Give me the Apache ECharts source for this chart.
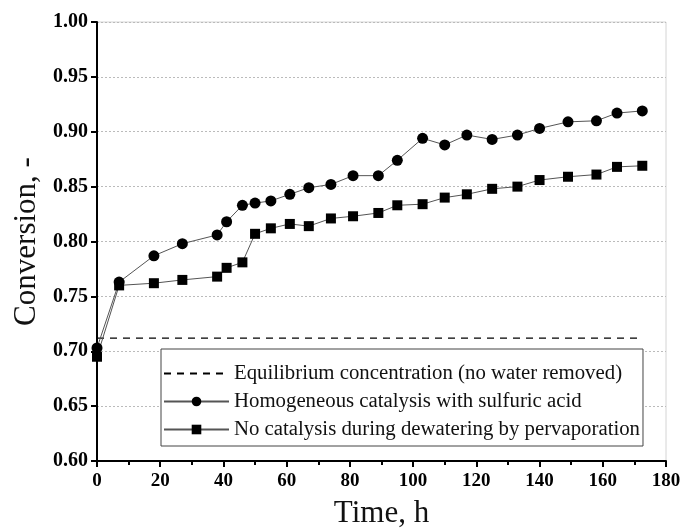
<!DOCTYPE html>
<html><head><meta charset="utf-8">
<script src="https://cdn.jsdelivr.net/npm/echarts@6/dist/echarts.min.js"></script>
<style>html,body{margin:0;padding:0;background:#fff}#c{width:681px;height:531px}</style>
</head><body><div id="c"></div>
<script>
var times = [0, 7, 18, 27, 38, 41, 46, 50, 55, 61, 67, 74, 81, 89, 95, 103, 110, 117, 125, 133, 140, 149, 158, 164.5, 172.5];
var homogeneous = [0.703, 0.763, 0.787, 0.798, 0.806, 0.818, 0.833, 0.835, 0.837, 0.843, 0.849, 0.852, 0.860, 0.860, 0.874, 0.894, 0.888, 0.897, 0.893, 0.897, 0.903, 0.909, 0.910, 0.917, 0.919];
var noCatalysis = [0.695, 0.760, 0.762, 0.765, 0.768, 0.776, 0.781, 0.807, 0.812, 0.816, 0.814, 0.821, 0.823, 0.826, 0.833, 0.834, 0.840, 0.843, 0.848, 0.850, 0.856, 0.859, 0.861, 0.868, 0.869];
var equilibriumX = [0, 172];
var equilibriumY = [0.712, 0.712];
var names = ['Equilibrium concentration (no water removed)', 'Homogeneous catalysis with sulfuric acid', 'No catalysis during dewatering by pervaporation'];

function zip(xs, ys) { return xs.map(function (x, i) { return [x, ys[i]]; }); }

var font = '"Liberation Serif", "Times New Roman", serif';
var chart = echarts.init(document.getElementById('c'), null, {renderer: 'canvas'});
chart.setOption({
  animation: false,
  backgroundColor: '#fff',
  grid: {left: 97, right: 15, top: 22, bottom: 70, containLabel: false, outerBoundsMode: 'none',
    show: true, borderColor: '#d4d4d4', borderWidth: 1},
  legend: {
    orient: 'vertical', left: 161, top: 349,
    backgroundColor: '#fff', borderColor: '#444', borderWidth: 1,
    padding: [14, 3, 6, 2], itemGap: 7, itemWidth: 65, itemHeight: 12,
    textStyle: {fontFamily: font, fontSize: 20.8, color: '#111'},
    data: [
      {name: names[0], itemStyle: {opacity: 0}},
      {name: names[1]},
      {name: names[2]}
    ]
  },
  xAxis: {
    type: 'value', min: 0, max: 180, interval: 20,
    name: 'Time, h', nameLocation: 'middle', nameGap: 37,
    nameTextStyle: {fontFamily: font, fontSize: 31, color: '#111'},
    axisLine: {show: true, lineStyle: {color: '#000', width: 2}},
    axisTick: {show: true, length: 6, lineStyle: {color: '#000', width: 2}},
    minorTick: {show: true, splitNumber: 2, length: 4, lineStyle: {color: '#000', width: 2}},
    axisLabel: {fontFamily: font, fontSize: 19, fontWeight: 'bold', color: '#000', margin: 11},
    splitLine: {show: false}
  },
  yAxis: {
    type: 'value', min: 0.6, max: 1.0, interval: 0.05,
    name: 'Conversion, -', nameLocation: 'middle', nameGap: 51,
    nameTextStyle: {fontFamily: font, fontSize: 31, color: '#111'},
    axisLine: {show: true, lineStyle: {color: '#000', width: 2}},
    axisTick: {show: true, length: 6, lineStyle: {color: '#000', width: 2}},
    axisLabel: {fontFamily: font, fontSize: 20, fontWeight: 'bold', color: '#000', margin: 9,
      formatter: function (v) { return v.toFixed(2); }},
    splitLine: {show: true, lineStyle: {color: '#bbb', type: [2, 2], width: 1}}
  },
  series: [
    {
      name: names[0], type: 'line', symbol: 'circle', showSymbol: false, data: zip(equilibriumX, equilibriumY),
      lineStyle: {color: '#000', width: 1.3, type: [7, 6]}, itemStyle: {color: '#000'}, z: 2
    },
    {
      name: names[1], type: 'line', symbol: 'circle', symbolSize: 11, data: zip(times, homogeneous),
      lineStyle: {color: '#555', width: 1}, itemStyle: {color: '#000'}, z: 3
    },
    {
      name: names[2], type: 'line', symbol: 'rect', symbolSize: 10, data: zip(times, noCatalysis),
      lineStyle: {color: '#555', width: 1}, itemStyle: {color: '#000'}, z: 3
    }
  ]
});
</script></body></html>
